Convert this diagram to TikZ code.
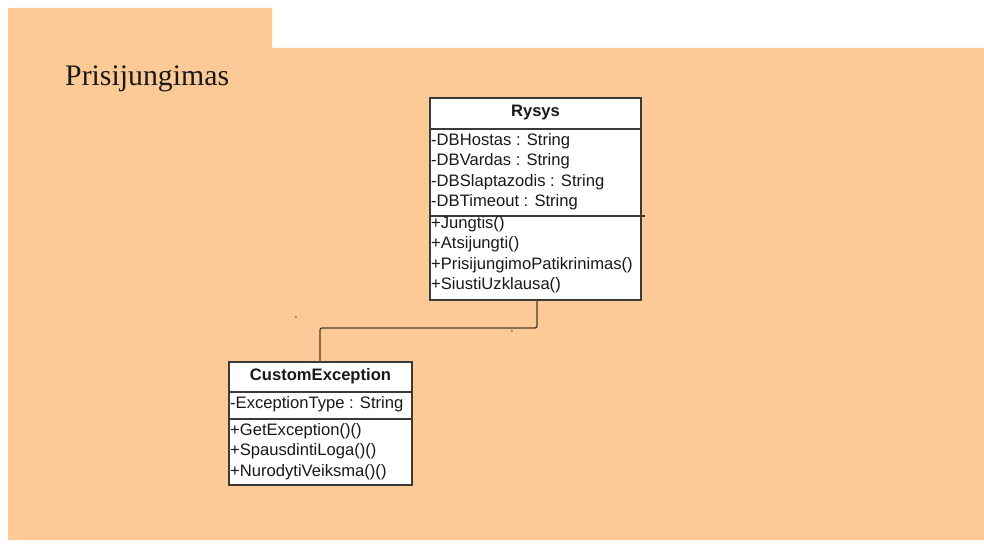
\documentclass[tikz,border=0pt]{standalone}
\usepackage{fontspec}
\setmainfont{Liberation Serif}
\newfontfamily\umlfont{Liberation Sans}
\definecolor{pkgfill}{HTML}{FDC996}
\definecolor{umlline}{HTML}{3A3A3A}
\definecolor{linkline}{HTML}{4A3C32}
\begin{document}
\begin{tikzpicture}[x=1pt,y=-1pt,
  classbox/.style={draw=umlline,fill=white,line width=1.2pt,inner sep=0pt},
  member/.style={anchor=west,inner sep=0pt,font=\umlfont\fontsize{16.6}{18}\selectfont,text=black!90},
  header/.style={inner sep=0pt,font=\umlfont\bfseries\fontsize{16.6}{18}\selectfont,text=black!90},
  divider/.style={draw=umlline,line width=1.2pt},
  link/.style={draw=linkline,line width=1.3pt,rounded corners=2pt},
  mult/.style={inner sep=0pt,font=\umlfont\fontsize{6}{6}\selectfont,text=linkline}]
\useasboundingbox (0,0) rectangle (984,543);
\fill[white] (0,0) rectangle (984,543);
% package folder shape
\fill[pkgfill] (8,8) -- (272,8) -- (272,48) -- (984,48) -- (984,540) -- (8,540) -- cycle;
\node[anchor=base west,inner sep=0pt,font=\fontsize{29.8}{32}\selectfont,text=black!90] (pkgname) at (65,85) {Prisijungimas};

% class Rysys
\node[classbox,minimum width=211pt,minimum height=202pt] (rysys) at (535.5,199) {};
\draw[divider] (430,129) -- (641,129);
\draw[divider] (430,216) -- (645,216);
\node[header] (rysysname) at (535.5,113) {Rysys};
\node[member] (r1) at (431,141) {-DBHostas : String};
\node[member] (r2) at (431,161.5) {-DBVardas : String};
\node[member] (r3) at (431,182) {-DBSlaptazodis : String};
\node[member] (r4) at (431,202.5) {-DBTimeout : String};
\node[member] (r5) at (431,224) {+Jungtis()};
\node[member] (r6) at (431,244.5) {+Atsijungti()};
\node[member] (r7) at (431,265) {+PrisijungimoPatikrinimas()};
\node[member] (r8) at (431,285.5) {+SiustiUzklausa()};

% class CustomException
\node[classbox,minimum width=183pt,minimum height=123pt] (cexc) at (320.5,423.5) {};
\draw[divider] (229,392) -- (412,392);
\draw[divider] (229,419) -- (412,419);
\node[header] (cexcname) at (320.5,376) {CustomException};
\node[member] (c1) at (230,404.5) {-ExceptionType : String};
\node[member] (c2) at (230,431) {+GetException()()};
\node[member] (c3) at (230,451.5) {+SpausdintiLoga()()};
\node[member] (c4) at (230,472) {+NurodytiVeiksma()()};

% association
\coordinate (rysysend) at (rysys.south -| 537,0);
\coordinate (cexcend) at (cexc.north -| 320,0);
\draw[link] (rysysend) -- (537,328) -- (320,328) -- (cexcend);
\node[mult] (m1) at (296,318) {*};
\node[mult] (m2) at (512,332) {*};
\end{tikzpicture}
\end{document}
